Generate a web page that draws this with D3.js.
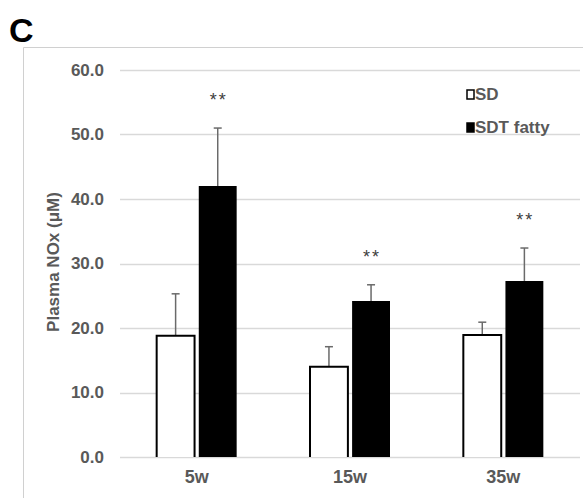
<!DOCTYPE html>
<html lang="en">
  <head>
    <meta charset="UTF-8" />
    <script src="https://cdn.jsdelivr.net/npm/d3@7"></script>
    <style>
      * {
        margin: 0;
        padding: 0;
      }
      body {
        background: #fff;
      }
      svg {
        display: block;
        font-family: 'Liberation Sans', Arial, sans-serif;
      }
    </style>
    <title>Plasma NOx</title>
  </head>
  <body>
    <div id="container"></div>
  </body>
  <script>
    const ages = ['5w', '15w', '35w'];
    const groups = ['SD', 'SDT fatty'];
    const sdMeans = [18.8, 14.0, 18.9];
    const sdErrors = [6.5, 3.1, 2.0];
    const fattyMeans = [42.0, 24.2, 27.3];
    const fattyErrors = [9.0, 2.5, 5.1];
    const stars = ['**', '**', '**'];
    const yTicks = [0, 10, 20, 30, 40, 50, 60];

    const width = 583;
    const height = 498;
    const margin = { top: 70, left: 120, right: 3, bottom: 41 };
    const textGray = '#595959';

    const rows = ages.map((a, i) => ({
      age: a,
      values: [
        { group: groups[0], mean: sdMeans[i], err: sdErrors[i] },
        { group: groups[1], mean: fattyMeans[i], err: fattyErrors[i], star: stars[i] },
      ],
    }));

    const svg = d3
      .select('#container')
      .append('svg')
      .attr('width', width)
      .attr('height', height);

    // panel frame
    svg
      .append('path')
      .attr('d', `M23.5,${height} V47.5 H${width}`)
      .attr('fill', 'none')
      .attr('stroke', '#d0d0d0')
      .attr('stroke-width', 1);

    // panel letter
    svg
      .append('text')
      .text('C')
      .attr('x', 9)
      .attr('y', 42)
      .attr('font-size', 34)
      .attr('font-weight', 'bold')
      .attr('fill', '#000');

    const x = d3
      .scaleBand()
      .domain(ages)
      .range([margin.left, width - margin.right]);

    const xInner = d3.scaleBand().domain(groups).range([0, 80]).paddingInner(0.1);

    const y = d3
      .scaleLinear()
      .domain([0, 60])
      .range([height - margin.bottom, margin.top]);

    // grid
    svg
      .append('g')
      .selectAll('line')
      .data(yTicks)
      .join('line')
      .attr('x1', margin.left)
      .attr('x2', width - margin.right)
      .attr('y1', (d) => Math.round(y(d)) + 0.5)
      .attr('y2', (d) => Math.round(y(d)) + 0.5)
      .attr('stroke', '#d9d9d9')
      .attr('stroke-width', 1.5);

    // y axis labels
    const yAxis = d3
      .axisLeft(y)
      .tickValues(yTicks)
      .tickFormat(d3.format('.1f'))
      .tickSize(0)
      .tickPadding(16);
    const yg = svg
      .append('g')
      .attr('transform', `translate(${margin.left},0)`)
      .call(yAxis);
    yg.select('.domain').remove();
    yg.selectAll('text')
      .attr('font-size', 17)
      .attr('font-weight', 'bold')
      .attr('font-family', 'Liberation Sans, Arial, sans-serif')
      .attr('fill', textGray);

    // x axis labels
    const xAxis = d3.axisBottom(x).tickSize(0).tickPadding(13);
    const xg = svg
      .append('g')
      .attr('transform', `translate(0,${height - margin.bottom})`)
      .call(xAxis);
    xg.select('.domain').remove();
    xg.selectAll('text')
      .attr('font-size', 18)
      .attr('font-weight', 'bold')
      .attr('font-family', 'Liberation Sans, Arial, sans-serif')
      .attr('fill', textGray);

    // y title
    svg
      .append('text')
      .text('Plasma NOx (μM)')
      .attr('transform', `translate(59,262) rotate(-90)`)
      .attr('text-anchor', 'middle')
      .attr('font-size', 17)
      .attr('font-weight', 'bold')
      .attr('fill', textGray);

    const groupsG = svg
      .append('g')
      .selectAll('g')
      .data(rows)
      .join('g')
      .attr('transform', (d) => `translate(${x(d.age) + x.bandwidth() / 2 - 40},0)`);

    // error bars (upper only)
    const errG = groupsG
      .selectAll('g.err')
      .data((d) => d.values)
      .join('g')
      .attr('class', 'err');
    errG
      .append('line')
      .attr('x1', (d) => xInner(d.group) + xInner.bandwidth() / 2)
      .attr('x2', (d) => xInner(d.group) + xInner.bandwidth() / 2)
      .attr('y1', (d) => y(d.mean))
      .attr('y2', (d) => y(d.mean + d.err))
      .attr('stroke', '#6a6a6a')
      .attr('stroke-width', 1.5);
    errG
      .append('line')
      .attr('x1', (d) => xInner(d.group) + xInner.bandwidth() / 2 - 4)
      .attr('x2', (d) => xInner(d.group) + xInner.bandwidth() / 2 + 4)
      .attr('y1', (d) => y(d.mean + d.err))
      .attr('y2', (d) => y(d.mean + d.err))
      .attr('stroke', '#6a6a6a')
      .attr('stroke-width', 1.5);

    // bars
    groupsG
      .selectAll('path.bar')
      .data((d) => d.values)
      .join('path')
      .attr('class', 'bar')
      .attr('d', (d) => {
        const x0 = xInner(d.group);
        const x1 = x0 + xInner.bandwidth();
        const y0 = y(0);
        const y1 = y(d.mean);
        return d.group === groups[0]
          ? `M${x0},${y0} V${y1} H${x1} V${y0}`
          : `M${x0},${y0} V${y1} H${x1} V${y0} Z`;
      })
      .attr('fill', (d) => (d.group === groups[0] ? '#fff' : '#000'))
      .attr('stroke', '#000')
      .attr('stroke-width', (d) => (d.group === groups[0] ? 2 : 0));

    // significance stars
    groupsG
      .selectAll('text.star')
      .data((d) => d.values.filter((v) => v.star))
      .join('text')
      .attr('class', 'star')
      .attr('x', (d) => xInner(d.group) + xInner.bandwidth() / 2 + 1)
      .attr('y', (d) => y(d.mean + d.err) - 22)
      .attr('text-anchor', 'middle')
      .attr('font-size', 18)
      .attr('letter-spacing', 2)
      .attr('fill', '#404040')
      .text((d) => d.star);

    // legend
    const legend = svg
      .append('g')
      .selectAll('g')
      .data(groups)
      .join('g')
      .attr('transform', (d, i) => `translate(466,${89 + i * 33})`);
    legend
      .append('rect')
      .attr('x', 1)
      .attr('y', 1)
      .attr('width', 7)
      .attr('height', 9)
      .attr('fill', (d, i) => (i === 0 ? '#fff' : '#000'))
      .attr('stroke', '#000')
      .attr('stroke-width', 1.5);
    legend
      .append('text')
      .attr('x', 9)
      .attr('y', 11)
      .attr('font-size', 17)
      .attr('font-weight', 'bold')
      .attr('fill', textGray)
      .text((d) => d);
  </script>
</html>
